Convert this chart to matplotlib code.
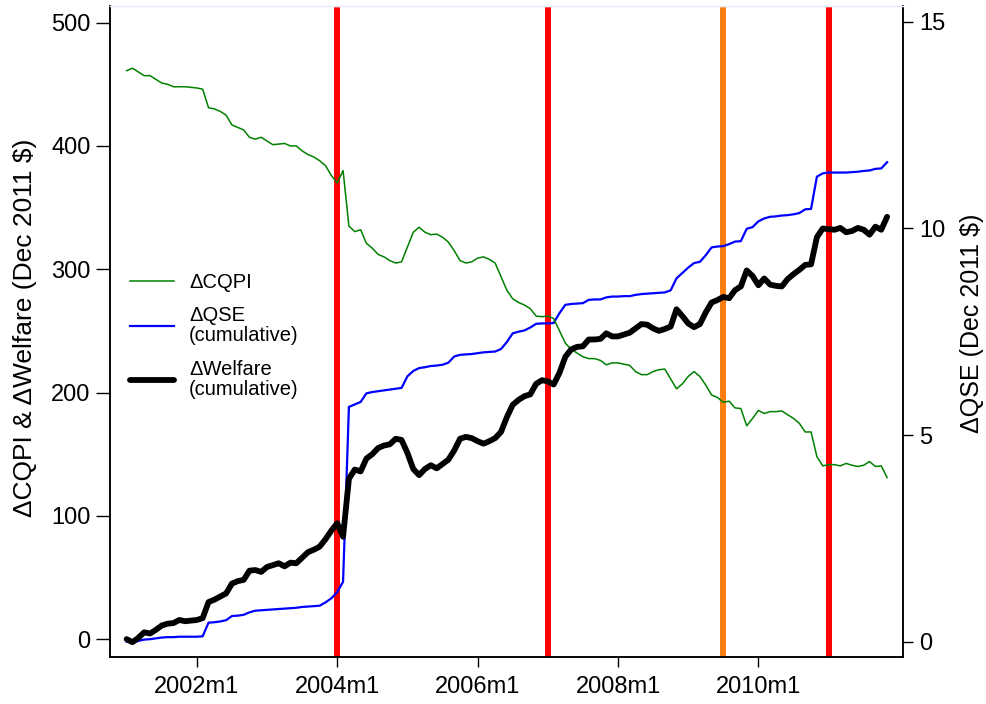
import matplotlib
matplotlib.use("Agg")
import matplotlib.pyplot as plt
import numpy as np

plt.rcParams['font.family'] = ['Liberation Sans', 'DejaVu Sans']

# Monthly series, 2001m1 .. 2011m11
start_year = 2001
cqpi = [461, 463, 460, 457, 457, 454, 451, 450, 448, 448,
        448, 447.5, 447, 446, 431, 430, 428, 425, 417, 415,
        413, 407, 405.5, 407, 404, 401, 401.5, 402, 400, 400,
        396, 393, 391, 388, 384, 376, 370, 380, 335, 330.5,
        332, 321, 317, 312, 310, 307, 305, 306, 318, 330,
        334, 330, 328, 328.5, 326, 322, 315, 307, 305, 306,
        309, 310, 308, 305, 294, 283, 276, 273, 271, 268,
        262, 261.5, 262, 260, 250, 240, 235, 232, 229, 227.5,
        227.5, 226, 222.5, 224, 224, 223, 222, 217, 214.5, 214.5,
        217, 218.5, 219, 211, 203, 207, 213, 217, 213, 206,
        198, 196, 192, 193, 187.5, 187, 173, 179, 185.5, 183,
        184.5, 184.5, 185, 182, 179, 175, 168, 168, 148, 140.5,
        141.5, 141.5, 140.5, 142.5, 141, 140, 141, 144, 140, 140.5,
        131]

qse_cum = [0.0, -0.03, 0.02, 0.05, 0.06, 0.08, 0.10, 0.11, 0.11, 0.12,
           0.12, 0.12, 0.12, 0.13, 0.46, 0.47, 0.49, 0.52, 0.62, 0.63,
           0.65, 0.71, 0.75, 0.76, 0.77, 0.78, 0.79, 0.80, 0.81, 0.82,
           0.84, 0.85, 0.86, 0.87, 0.95, 1.05, 1.20, 1.45, 5.68, 5.74,
           5.80, 6.01, 6.04, 6.06, 6.08, 6.10, 6.12, 6.14, 6.42, 6.55,
           6.62, 6.64, 6.67, 6.68, 6.70, 6.75, 6.90, 6.94, 6.95, 6.96,
           6.98, 7.00, 7.01, 7.02, 7.08, 7.25, 7.46, 7.50, 7.53, 7.60,
           7.69, 7.70, 7.70, 7.71, 7.95, 8.15, 8.17, 8.18, 8.19, 8.27,
           8.28, 8.28, 8.33, 8.35, 8.35, 8.36, 8.36, 8.39, 8.41, 8.42,
           8.43, 8.44, 8.45, 8.50, 8.79, 8.92, 9.05, 9.16, 9.19, 9.35,
           9.54, 9.56, 9.57, 9.62, 9.68, 9.69, 9.99, 10.03, 10.17, 10.24,
           10.28, 10.29, 10.31, 10.32, 10.34, 10.37, 10.46, 10.47, 11.25, 11.33,
           11.35, 11.35, 11.35, 11.35, 11.36, 11.37, 11.39, 11.40, 11.44, 11.45,
           11.60]

welfare_cum = [0, -2.5, 1, 5.5, 4.5, 7.5, 11, 12.5, 13, 15.5,
               14.5, 15, 15.5, 17, 30, 32, 34.5, 37, 45, 47,
               48, 55.5, 56, 54.5, 58.5, 60, 61.5, 59, 62, 61.5,
               66, 70.5, 72.5, 75, 81, 88, 94, 83, 130, 137.5,
               136, 146.5, 150, 155, 157, 158, 162.5, 161.5, 151, 138,
               133, 138, 141, 138.5, 142, 145.5, 153, 162.5, 164, 163,
               160.5, 158.5, 160.5, 163, 168, 180, 190, 194, 197, 198.5,
               207, 210, 209, 206.5, 216, 229, 235, 237, 237.5, 243,
               243, 243.5, 248, 245.5, 245.5, 247, 248.5, 252, 255.5, 255,
               252, 250, 251.5, 253.5, 267.5, 262, 256, 253, 255.5, 265,
               273, 275, 277.5, 276.5, 283, 286, 299, 294.5, 287, 292.5,
               287.5, 286.5, 286, 292, 296, 299.5, 303.5, 304, 326, 333,
               332.5, 332, 333.5, 330, 331, 333.5, 332, 328, 334.5, 332,
               342.5]

# Event months (year, month) and their marker colours
events = [(2004, 1, '#ff0000'), (2007, 1, '#ff0000'),
          (2009, 7, '#ff7f0e'), (2011, 1, '#ff0000')]

xtick_years = [2002, 2004, 2006, 2008, 2010]
left_ticks = [0, 100, 200, 300, 400, 500]
right_ticks = [0, 5, 10, 15]

n = len(cqpi)
t = start_year + np.arange(n) / 12.0

fig = plt.figure(figsize=(9.87, 7.04), dpi=100)
ax2 = fig.add_axes([0.1114, 0.0668, 0.8035, 0.9247])
ax = ax2.twinx()
ax.set_position(ax2.get_position())
# left-scale series drawn above the right-scale axes
ax.set_zorder(ax2.get_zorder() + 1)
ax.patch.set_visible(False)
ax.yaxis.tick_left()
ax.yaxis.set_label_position('left')
ax2.yaxis.tick_right()
ax2.yaxis.set_label_position('right')

for yr, mo, col in events:
    ax2.axvline(yr + (mo - 1) / 12.0, color=col, lw=4.3, zorder=1)

l_qse, = ax2.plot(t, qse_cum, color='#0000ff', lw=1.6, zorder=3,
                  solid_joinstyle='round')
l_cqpi, = ax.plot(t, cqpi, color='#008000', lw=1.1, zorder=2,
                  solid_joinstyle='round')
l_wel, = ax.plot(t, welfare_cum, color='black', lw=4.2, zorder=4,
                 solid_joinstyle='round', solid_capstyle='round')

ax.set_xlim(2000.7625, 2012.06)
ax2.set_xlim(2000.7625, 2012.06)
ax.set_ylim(-14.5, 513.5)
ax2.set_ylim(-0.37, 15.38)

ax2.set_xticks(xtick_years)
ax2.set_xticklabels([f"{y}m1" for y in xtick_years])
ax.set_yticks(left_ticks)
ax2.set_yticks(right_ticks)

ax.tick_params(axis='y', labelsize=17, length=10, width=1, pad=4, colors='black')
ax2.tick_params(axis='y', labelsize=17, length=7.5, width=1, pad=4)
ax2.tick_params(axis='x', labelsize=17, length=7, width=1, pad=7)

ax.set_ylabel('ΔCQPI & ΔWelfare (Dec 2011 $)', fontsize=19)
ax.yaxis.set_label_coords(-0.0916, 0.506)
ax2.set_ylabel('ΔQSE (Dec 2011 $)', fontsize=18)
ax2.yaxis.set_label_coords(1.072, 0.512)

for a in (ax, ax2):
    for s in ('left', 'right', 'bottom'):
        a.spines[s].set_linewidth(1.1)
        a.spines[s].set_color('black')
    a.spines['top'].set_color('#e6eef8')
    a.spines['top'].set_linewidth(1.0)

leg = ax.legend([l_cqpi, l_qse, l_wel],
                ['ΔCQPI', 'ΔQSE\n(cumulative)', 'ΔWelfare\n(cumulative)'],
                loc='upper left', bbox_to_anchor=(0.025, 0.59), frameon=False,
                fontsize=14.5, handlelength=2.2, handletextpad=0.75,
                labelspacing=0.7, borderpad=0, borderaxespad=0)
for txt in leg.get_texts():
    txt.set_linespacing(1.1)

fig.savefig('out.png', dpi=100)
